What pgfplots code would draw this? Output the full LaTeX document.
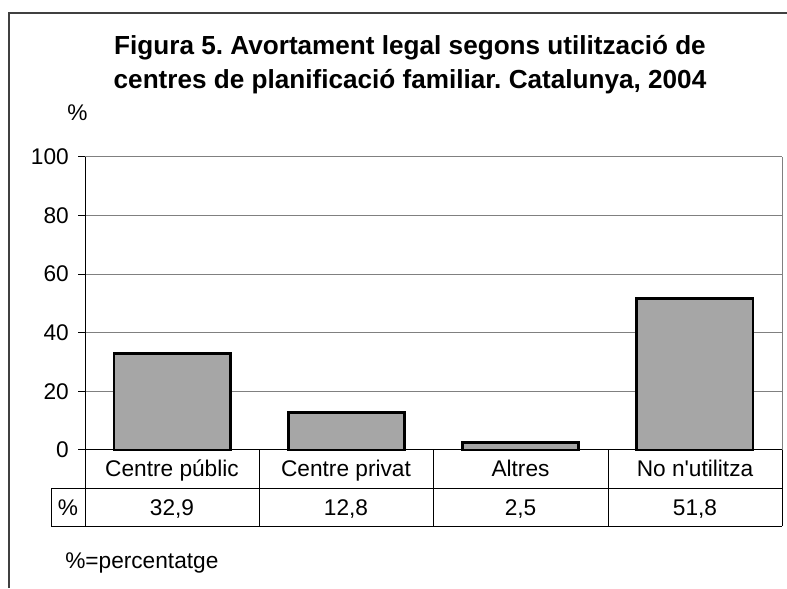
\documentclass[border=0pt]{standalone}
\usepackage{pgfplots}
\pgfplotsset{compat=1.18}
\usepackage{fontspec}
\setmainfont{Liberation Sans}
\definecolor{barfill}{RGB}{166,166,166}
\definecolor{gridgray}{RGB}{128,128,128}
\definecolor{framegray}{RGB}{64,64,64}
\newcommand{\txt}{\fontsize{17pt}{20pt}\selectfont}
\newcommand{\ttl}{\fontsize{19.6pt}{23pt}\selectfont\bfseries}
\frenchspacing
\begin{document}
\begin{tikzpicture}
\path[use as bounding box] (0,0) rectangle (590.25pt,441pt);
\begin{axis}[
    at={(63.75pt,103.5pt)}, anchor=south west,
    scale only axis,
    width=522.75pt, height=219.75pt,
    xmin=0, xmax=4, ymin=0, ymax=100,
    axis x line*=bottom, axis y line*=left,
    axis line style={black, line width=0.75pt, -},
    xtick=\empty,
    ytick={0,20,40,60,80,100},
    ytick align=outside,
    major tick length=5.25pt,
    tick style={black, line width=0.75pt},
    yticklabel style={font=\txt, inner sep=0pt, xshift=-6.75pt},
    /pgf/number format/assume math mode=true,
    ymajorgrids,
    grid style={gridgray, line width=0.75pt},
    clip=false,
]
\addplot[ybar, bar width=0.667, fill=barfill, draw=black, line width=2pt]
    coordinates {(0.5,32.9) (1.5,12.8) (2.5,2.5) (3.5,51.8)};
\draw[gridgray, line width=0.75pt] (rel axis cs:1,0) -- (rel axis cs:1,1);
\draw[gridgray, line width=0.75pt] (rel axis cs:0,1) -- (rel axis cs:1,1);
\end{axis}
\begin{scope}[x=0.75pt, y=-0.75pt, yshift=441pt]
  % outer frame
  \draw[framegray, line width=0.9pt] (9,588) -- (9,13) -- (787,13);
  % title
  \node[anchor=base, inner sep=0pt] at (410,55) {\ttl Figura 5. Avortament legal segons utilització de};
  \node[anchor=base, inner sep=0pt] at (410,89) {\ttl centres de planificació familiar. Catalunya, 2004};
  \node[anchor=base, inner sep=0pt] at (77.5,121) {\txt \%};
  % data table
  \draw[black, line width=0.75pt] (85,450) -- (782,450);
  \draw[black, line width=0.75pt] (51,489) -- (782,489);
  \draw[black, line width=0.75pt] (51,526) -- (782,526);
  \draw[black, line width=0.75pt] (51,489) -- (51,526);
  \foreach \xx in {85,259,433,608,782}
    \draw[black, line width=0.75pt] (\xx,450) -- (\xx,526);
  \node[anchor=base, inner sep=0pt] at (172,477) {\txt Centre públic};
  \node[anchor=base, inner sep=0pt] at (346,477) {\txt Centre privat};
  \node[anchor=base, inner sep=0pt] at (520.5,477) {\txt Altres};
  \node[anchor=base, inner sep=0pt] at (695,477) {\txt No n\textquotesingle utilitza};
  \node[anchor=base, inner sep=0pt] at (68,516) {\txt \%};
  \node[anchor=base, inner sep=0pt] at (172,516) {\txt 32,9};
  \node[anchor=base, inner sep=0pt] at (346,516) {\txt 12,8};
  \node[anchor=base, inner sep=0pt] at (520.5,516) {\txt 2,5};
  \node[anchor=base, inner sep=0pt] at (695,516) {\txt 51,8};
  \node[anchor=base west, inner sep=0pt] at (65,568) {\txt \%=percentatge};
\end{scope}
\end{tikzpicture}
\end{document}
